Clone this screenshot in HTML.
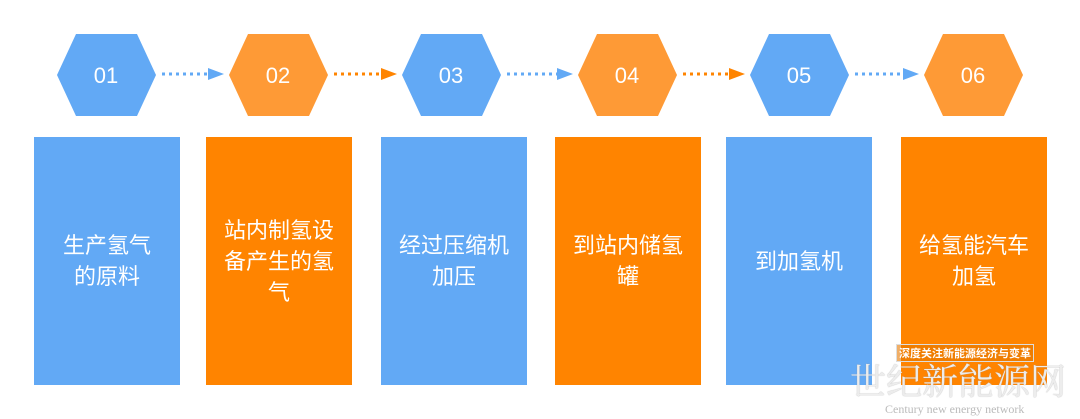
<!DOCTYPE html>
<html><head><meta charset="utf-8"><style>
body{margin:0;width:1080px;height:419px;background:#fff;overflow:hidden;position:relative;font-family:"Liberation Sans","Noto Sans CJK SC",sans-serif}
.b{position:absolute;top:137px;width:146px;height:248px;display:flex;align-items:center;justify-content:center;text-align:center;color:#fff;font-size:22px;line-height:31px;padding:0 12px;box-sizing:border-box}
.bl{background:#62a9f5}.or{background:#ff8400}
</style></head><body>
<svg width="1080" height="419" style="position:absolute;left:0;top:0">
<g font-family="Liberation Sans,sans-serif" font-size="22" fill="#fff" text-anchor="middle">
<polygon points="57,75 76,34 137,34 156,75 137,116 76,116" fill="#62a9f5"/><text x="106" y="83">01</text>
<polygon points="229,75 248,34 309,34 328,75 309,116 248,116" fill="#fe9a36"/><text x="278" y="83">02</text>
<polygon points="402,75 421,34 482,34 501,75 482,116 421,116" fill="#62a9f5"/><text x="451" y="83">03</text>
<polygon points="578,75 597,34 658,34 677,75 658,116 597,116" fill="#fe9a36"/><text x="627" y="83">04</text>
<polygon points="750,75 769,34 830,34 849,75 830,116 769,116" fill="#62a9f5"/><text x="799" y="83">05</text>
<polygon points="924,75 943,34 1004,34 1023,75 1004,116 943,116" fill="#fe9a36"/><text x="973" y="83">06</text>
</g>
<g stroke-width="3" stroke-dasharray="3,4">
<line x1="162" y1="74" x2="210" y2="74" stroke="#62a9f5"/>
<line x1="334" y1="74" x2="383" y2="74" stroke="#ff8400"/>
<line x1="507" y1="74" x2="559" y2="74" stroke="#62a9f5"/>
<line x1="683" y1="74" x2="731" y2="74" stroke="#ff8400"/>
<line x1="855" y1="74" x2="905" y2="74" stroke="#62a9f5"/>
</g>
<polygon points="208,68 224,74 208,80" fill="#62a9f5"/>
<polygon points="381,68 397,74 381,80" fill="#ff8400"/>
<polygon points="557,68 573,74 557,80" fill="#62a9f5"/>
<polygon points="729,68 745,74 729,80" fill="#ff8400"/>
<polygon points="903,68 919,74 903,80" fill="#62a9f5"/>
</svg>
<div class="b bl" style="left:34px">生产氢气<br>的原料</div>
<div class="b or" style="left:206px">站内制氢设备产生的氢气</div>
<div class="b bl" style="left:381px">经过压缩机<br>加压</div>
<div class="b or" style="left:555px">到站内储氢<br>罐</div>
<div class="b bl" style="left:726px">到加氢机</div>
<div class="b or" style="left:901px">给氢能汽车<br>加氢</div>
<div style="position:absolute;left:896px;top:344px;font-size:11px;color:#fff;background:rgba(230,120,0,.6);border:1px solid #ddd;padding:0 2px;font-weight:bold;white-space:nowrap">深度关注新能源经济与变革</div>
<div style="position:absolute;left:850px;top:358px;font-family:'Noto Serif CJK SC',serif;font-size:36px;line-height:44px;color:rgba(245,245,245,.9);white-space:nowrap;text-shadow:0 0 1px #999">世纪新能源网</div>
<div style="position:absolute;left:885px;top:402px;font-family:'Liberation Serif',serif;font-size:12px;line-height:14px;color:#bbb;white-space:nowrap">Century new energy network</div>
</body></html>
